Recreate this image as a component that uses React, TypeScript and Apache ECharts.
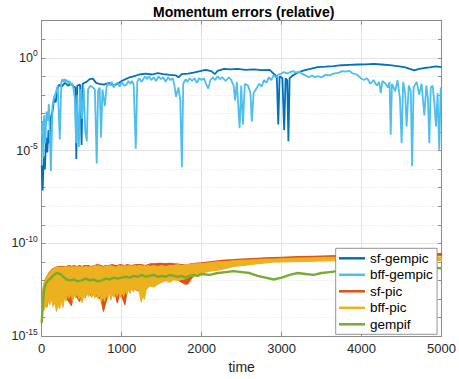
import React, { useEffect, useRef } from "react";
import * as echarts from "echarts";

// Relative momentum error per method, stored as log10(error) against time.
// Upper group (GEMPIC variants): [time, log10 error]
const sfGempic: [number, number][] = [
  [0, -5.8], [12, -7.15], [25, -5.3], [40, -6.0], [55, -4.3], [70, -5.1], [85, -3.9], [100, -4.6],
  [115, -3.2], [135, -2.9], [155, -2.2], [175, -2.4], [195, -1.7], [215, -1.45], [250, -1.55],
  [290, -1.35], [330, -1.5], [370, -1.4], [400, -1.55], [420, -1.6], [433, -5.45], [445, -1.5],
  [480, -1.45], [499, -4.7], [512, -1.4], [560, -1.3], [600, -1.15], [640, -1.12], [680, -1.35],
  [720, -1.4], [780, -1.45], [840, -1.35], [900, -1.5], [950, -1.4], [1000, -1.25], [1050, -1.15],
  [1100, -1.05], [1150, -1.0], [1220, -0.9], [1300, -0.85], [1380, -0.9], [1450, -0.82],
  [1520, -0.88], [1600, -0.92], [1680, -0.95], [1712, -1.05], [1750, -0.88], [1830, -0.85],
  [1900, -0.8], [1980, -0.72], [2050, -0.65], [2120, -0.72], [2166, -0.88], [2200, -0.7],
  [2280, -0.6], [2360, -0.62], [2450, -0.6], [2550, -0.65], [2650, -0.62], [2750, -0.66],
  [2850, -0.65], [2900, -0.85], [2940, -1.0], [2958, -3.6], [2975, -1.0], [3010, -1.1],
  [3032, -3.9], [3050, -1.1], [3070, -1.2], [3085, -4.5], [3100, -1.1], [3140, -0.95],
  [3200, -0.8], [3280, -0.68], [3360, -0.6], [3450, -0.5], [3550, -0.48], [3650, -0.45],
  [3750, -0.4], [3850, -0.38], [3950, -0.36], [4050, -0.35], [4150, -0.33], [4250, -0.36],
  [4350, -0.4], [4450, -0.45], [4550, -0.52], [4620, -0.62], [4660, -0.68], [4720, -0.6],
  [4780, -0.55], [4850, -0.52], [4930, -0.46], [5000, -0.5],
];

const bffGempic: [number, number][] = [
  [0, -4.2], [10, -3.4], [20, -5.4], [30, -3.1], [45, -4.6], [60, -2.9], [75, -3.4], [90, -2.5],
  [115, -6.1], [135, -2.6], [155, -2.1], [175, -1.9], [200, -1.5], [226, -4.4], [245, -1.35],
  [260, -1.15], [275, -1.3], [290, -1.15], [305, -1.3], [320, -1.2], [335, -1.4], [350, -1.25],
  [365, -1.5], [380, -1.35], [395, -1.6], [415, -2.2], [430, -4.6], [445, -2.0], [465, -4.8],
  [485, -1.7], [505, -3.3], [525, -1.6], [545, -4.0], [564, -4.5], [580, -1.7], [610, -1.5],
  [640, -1.6], [665, -1.7], [688, -5.7], [705, -1.8], [725, -1.6], [742, -4.3], [760, -1.7],
  [790, -2.6], [810, -1.6], [830, -1.35], [850, -1.5], [875, -1.3], [900, -1.6], [925, -1.4],
  [950, -1.35], [975, -1.55], [1000, -1.3], [1030, -1.5], [1060, -1.45], [1085, -1.25],
  [1110, -1.4], [1130, -1.25], [1150, -1.45], [1176, -4.9], [1195, -1.3], [1220, -1.1],
  [1250, -1.3], [1290, -1.0], [1320, -1.15], [1340, -1.0], [1370, -1.2], [1400, -1.05],
  [1430, -1.25], [1460, -1.0], [1490, -1.15], [1520, -1.05], [1550, -1.3], [1580, -1.05],
  [1610, -1.2], [1640, -1.1], [1660, -1.5], [1680, -2.1], [1710, -1.6], [1733, -2.3],
  [1753, -5.9], [1770, -1.4], [1800, -1.15], [1820, -1.3], [1850, -1.1], [1880, -1.25],
  [1910, -1.1], [1940, -1.35], [1970, -1.1], [2000, -1.2], [2030, -1.1], [2050, -1.35],
  [2083, -1.66], [2110, -1.2], [2140, -1.05], [2170, -1.2], [2200, -1.0], [2230, -1.15],
  [2260, -1.05], [2300, -1.25], [2340, -1.05], [2370, -1.2], [2400, -1.5], [2418, -2.3],
  [2440, -1.3], [2475, -3.8], [2495, -1.5], [2516, -3.6], [2540, -1.4], [2580, -1.5],
  [2610, -1.9], [2627, -3.45], [2650, -1.9], [2680, -1.7], [2720, -1.4], [2750, -1.55],
  [2780, -1.2], [2810, -1.35], [2840, -1.05], [2870, -1.2], [2900, -0.95], [2930, -1.05],
  [2960, -0.9], [3000, -0.85], [3030, -0.77], [3070, -0.85], [3100, -0.78], [3140, -0.72],
  [3180, -0.8], [3220, -0.75], [3250, -0.85], [3300, -0.95], [3340, -1.05], [3380, -0.95],
  [3420, -1.05], [3450, -0.98], [3500, -1.05], [3550, -0.92], [3600, -0.95], [3650, -0.85],
  [3720, -0.8], [3760, -0.72], [3800, -0.75], [3850, -0.7], [3880, -0.82], [3940, -0.9],
  [3990, -1.1], [4030, -1.2], [4070, -1.1], [4110, -1.4], [4150, -1.2], [4190, -1.5],
  [4220, -1.3], [4240, -1.9], [4260, -1.25], [4300, -1.4], [4330, -1.6], [4350, -1.3],
  [4364, -4.15], [4380, -1.4], [4420, -1.8], [4450, -1.2], [4480, -2.2], [4501, -4.6],
  [4520, -1.3], [4545, -1.9], [4563, -3.7], [4590, -1.5], [4615, -1.8], [4632, -5.85],
  [4650, -1.6], [4690, -1.3], [4720, -2.0], [4750, -1.4], [4785, -3.1], [4810, -1.5],
  [4830, -2.2], [4847, -4.6], [4865, -1.6], [4889, -1.5], [4910, -2.4], [4930, -3.7],
  [4950, -1.9], [4971, -4.95], [4990, -1.6], [5000, -1.8],
];

// Lower group (PIC variants) oscillate rapidly: [time, upper log10, lower log10]
const sfPicBand: [number, number, number][] = [
  [0, -13.2, -14.0], [20, -12.4, -13.4], [40, -12.0, -13.3], [62, -11.8, -13.45], [90, -11.6, -12.9],
  [130, -11.4, -13.0], [170, -11.3, -13.3], [210, -11.25, -13.3], [250, -11.25, -12.9],
  [300, -11.25, -12.9], [350, -11.2, -13.2], [371, -11.25, -13.35], [400, -11.2, -12.8],
  [440, -11.25, -12.9], [474, -11.2, -13.13], [500, -11.25, -12.7], [540, -11.2, -12.9],
  [580, -11.2, -12.6], [620, -11.25, -12.85], [660, -11.2, -12.7], [700, -11.15, -12.9],
  [740, -11.2, -13.0], [772, -11.25, -13.66], [800, -11.2, -13.2], [840, -11.2, -12.7],
  [880, -11.15, -12.8], [920, -11.2, -12.7], [945, -11.2, -13.2], [980, -11.15, -12.6],
  [1040, -11.2, -13.3], [1070, -11.15, -12.5], [1120, -11.2, -12.4], [1180, -11.15, -12.5],
  [1240, -11.15, -12.6], [1300, -11.2, -12.5], [1360, -11.1, -12.2], [1420, -11.1, -12.2],
  [1480, -11.08, -12.1], [1540, -11.1, -12.0], [1600, -11.08, -12.0], [1650, -11.1, -11.9],
  [1700, -11.12, -11.95], [1750, -11.15, -12.1], [1800, -11.15, -12.2], [1830, -11.15, -12.18],
  [1870, -11.1, -11.9], [1920, -11.08, -11.7], [2000, -11.05, -11.55], [2100, -11.0, -11.45],
  [2200, -10.95, -11.35], [2300, -10.9, -11.25], [2400, -10.88, -11.15], [2500, -10.85, -11.05],
  [2600, -10.83, -11.0], [2800, -10.78, -10.95], [3000, -10.75, -10.9], [3200, -10.72, -10.85],
  [3400, -10.7, -10.82], [3600, -10.68, -10.8], [3800, -10.65, -10.78], [4000, -10.62, -10.75],
  [4200, -10.6, -10.72], [4400, -10.58, -10.7], [4600, -10.57, -10.68], [4800, -10.56, -10.67],
  [5000, -10.56, -10.66],
];

const bffPicBand: [number, number, number][] = [
  [0, -13.3, -14.0], [15, -12.6, -13.3], [30, -12.2, -13.6], [45, -12.0, -13.1], [60, -11.85, -13.45],
  [80, -11.7, -13.0], [100, -11.6, -13.3], [120, -11.5, -12.9], [140, -11.4, -13.4], [160, -11.35, -13.1],
  [185, -11.3, -13.66], [205, -11.3, -13.3], [225, -11.3, -13.5], [245, -11.3, -13.0], [265, -11.3, -13.45],
  [285, -11.3, -12.9], [305, -11.25, -13.1], [325, -11.3, -12.7], [345, -11.25, -12.95], [365, -11.3, -12.6],
  [385, -11.25, -13.1], [405, -11.3, -12.7], [425, -11.25, -12.9], [445, -11.3, -12.65], [465, -11.25, -13.0],
  [485, -11.3, -12.75], [505, -11.25, -13.2], [525, -11.3, -12.8], [545, -11.25, -12.95], [565, -11.25, -12.6],
  [585, -11.3, -12.85], [605, -11.25, -12.55], [625, -11.3, -12.9], [645, -11.25, -12.7], [665, -11.2, -12.95],
  [685, -11.25, -12.6], [705, -11.2, -13.0], [725, -11.25, -12.7], [745, -11.25, -13.15], [765, -11.3, -12.8],
  [785, -11.25, -13.1], [805, -11.25, -12.75], [825, -11.2, -12.95], [845, -11.25, -12.6], [865, -11.2, -13.05],
  [885, -11.25, -12.7], [905, -11.25, -12.9], [925, -11.3, -12.6], [945, -11.25, -12.85], [965, -11.2, -12.55],
  [985, -11.25, -12.9], [1005, -11.2, -12.6], [1025, -11.25, -12.85], [1045, -11.2, -12.5], [1065, -11.25, -12.75],
  [1085, -11.2, -12.45], [1105, -11.25, -12.7], [1125, -11.2, -12.4], [1145, -11.25, -12.6], [1165, -11.2, -12.35],
  [1185, -11.25, -12.55], [1205, -11.2, -12.4], [1225, -11.2, -12.7], [1245, -11.2, -13.16], [1265, -11.25, -12.8],
  [1285, -11.2, -13.0], [1305, -11.25, -12.5], [1330, -11.2, -12.35], [1360, -11.25, -12.3], [1400, -11.2, -12.35],
  [1450, -11.25, -12.2], [1500, -11.2, -12.1], [1550, -11.25, -12.0], [1600, -11.2, -12.1], [1650, -11.2, -11.95],
  [1700, -11.15, -12.0], [1750, -11.2, -11.95], [1800, -11.15, -11.9], [1850, -11.15, -11.8], [1900, -11.1, -11.75],
  [1950, -11.1, -11.7], [2000, -11.1, -11.6], [2100, -11.05, -11.5], [2200, -11.0, -11.45], [2300, -10.98, -11.35],
  [2400, -10.95, -11.25], [2500, -10.92, -11.2], [2600, -10.9, -11.15], [2700, -10.88, -11.1], [2800, -10.85, -11.05],
  [2900, -10.85, -11.0], [3000, -10.83, -11.0], [3200, -10.8, -10.98], [3400, -10.78, -10.96], [3600, -10.75, -10.94],
  [3800, -10.75, -10.92], [4000, -10.74, -10.92], [4200, -10.74, -10.9], [4400, -10.74, -10.9], [4600, -10.74, -10.9],
  [4800, -10.74, -10.9], [5000, -10.75, -10.92],
];

const gempif: [number, number][] = [
  [0, -14.3], [15, -13.2], [30, -12.5], [50, -12.2], [80, -12.0], [110, -11.9], [150, -11.7],
  [190, -11.6], [230, -11.65], [270, -11.8], [310, -11.95], [350, -12.0], [400, -11.95],
  [450, -12.05], [500, -12.0], [550, -11.9], [600, -12.0], [650, -11.95], [700, -12.05],
  [750, -12.0], [800, -11.9], [850, -11.95], [900, -11.85], [950, -11.9], [1000, -11.85],
  [1050, -11.8], [1100, -11.85], [1150, -11.75], [1200, -11.8], [1250, -11.7], [1300, -11.8],
  [1350, -11.75], [1400, -11.7], [1450, -11.8], [1500, -11.75], [1550, -11.8], [1600, -11.7],
  [1650, -11.75], [1700, -11.8], [1750, -11.75], [1800, -11.85], [1850, -11.75], [1900, -11.7],
  [1950, -11.75], [2000, -11.65], [2100, -11.7], [2200, -11.6], [2300, -11.55], [2400, -11.5],
  [2500, -11.55], [2600, -11.6], [2700, -11.75], [2800, -11.85], [2900, -11.95], [2950, -11.9],
  [3000, -11.85], [3100, -11.7], [3200, -11.6], [3300, -11.65], [3400, -11.7], [3500, -11.6],
  [3600, -11.55], [3700, -11.5], [3800, -11.45], [3900, -11.5], [4000, -11.4], [4100, -11.45],
  [4200, -11.4], [4300, -11.35], [4400, -11.4], [4500, -11.35], [4600, -11.3], [4700, -11.3],
  [4800, -11.35], [4900, -11.3], [5000, -11.35],
];

const seriesNames = ["sf-gempic", "bff-gempic", "sf-pic", "bff-pic", "gempif"];
const seriesColors = ["#0072BD", "#4DBEEE", "#D95319", "#EDB120", "#77AC30"];

const FONT = 'Arial, "Liberation Sans", Helvetica, sans-serif';
const AXIS_GRAY = "#8c8c8c";
const TEXT = "#262626";

function lineSeries(idx: number, data: [number, number][], width: number) {
  return {
    type: "line",
    name: seriesNames[idx],
    data,
    showSymbol: false,
    symbol: "none",
    lineStyle: { width, color: seriesColors[idx] },
    itemStyle: { color: seriesColors[idx] },
    xAxisIndex: 0,
    yAxisIndex: 0,
  };
}

function bandSeries(idx: number, rows: [number, number, number][]) {
  const color = seriesColors[idx];
  return {
    type: "custom",
    name: seriesNames[idx],
    xAxisIndex: 0,
    yAxisIndex: 0,
    itemStyle: { color },
    encode: { x: 0, y: [1, 2] },
    data: rows,
    renderItem: (params: any, api: any) => {
      if (params.dataIndex !== 0) return null;
      const upper = rows.map((r) => api.coord([r[0], r[1]]));
      const lower = rows.map((r) => api.coord([r[0], r[2]])).reverse();
      return {
        type: "polygon",
        shape: { points: upper.concat(lower) },
        style: { fill: color, stroke: color, lineWidth: 1.2, lineJoin: "round" },
      };
    },
  };
}

export default function App() {
  const ref = useRef<HTMLDivElement>(null);

  useEffect(() => {
    if (!ref.current) return;
    const chart = echarts.init(ref.current, null, { renderer: "svg" });

    const gridRect = { left: 41.7, right: 13.3, top: 20.7, bottom: 41.3 };
    const plotCenterX = gridRect.left + (459 - gridRect.left - gridRect.right) / 2;

    chart.setOption({
      animation: false,
      backgroundColor: "#ffffff",
      textStyle: { fontFamily: FONT },
      graphic: [
        {
          type: "text",
          x: plotCenterX,
          y: 11.5,
          style: {
            text: "Momentum errors (relative)",
            align: "center",
            verticalAlign: "middle",
            fontSize: 14,
            fontWeight: "bold",
            fontFamily: FONT,
            fill: "#000",
          },
        },
      ],
      grid: { ...gridRect, containLabel: false },
      xAxis: [
        {
          type: "value",
          min: 0,
          max: 5000,
          interval: 1000,
          position: "bottom",
          name: "time",
          nameLocation: "middle",
          nameGap: 22,
          nameTextStyle: { fontSize: 14, color: TEXT, fontFamily: FONT },
          axisLine: { show: true, onZero: false, lineStyle: { color: AXIS_GRAY, width: 1 } },
          axisTick: { show: true, inside: true, length: 4, lineStyle: { color: AXIS_GRAY } },
          axisLabel: { fontSize: 13, color: TEXT, margin: 6, fontFamily: FONT, formatter: (v: number) => String(v) },
          splitLine: { show: true, lineStyle: { color: "#e3e3e3", width: 1 } },
        },
        {
          type: "value",
          min: 0,
          max: 5000,
          interval: 1000,
          position: "top",
          axisLine: { show: true, onZero: false, lineStyle: { color: AXIS_GRAY, width: 1 } },
          axisTick: { show: true, inside: true, length: 4, lineStyle: { color: AXIS_GRAY } },
          axisLabel: { show: false },
          splitLine: { show: false },
        },
      ],
      yAxis: [
        {
          // decades, log10 of the relative error
          type: "value",
          min: -15,
          max: 2,
          interval: 1,
          position: "left",
          axisLine: { show: true, onZero: false, lineStyle: { color: AXIS_GRAY, width: 1 } },
          axisTick: { show: true, inside: true, length: 3.5, lineStyle: { color: AXIS_GRAY } },
          axisLabel: {
            margin: 4,
            formatter: (v: number) => (Math.round(v) % 5 === 0 && v <= 0 ? `{b|10}{s|${Math.round(v)}}` : ""),
            rich: {
              b: { fontSize: 12.5, color: TEXT, fontFamily: FONT, lineHeight: 18 },
              s: { fontSize: 8.5, color: TEXT, fontFamily: FONT, lineHeight: 18, verticalAlign: "top" },
            },
          },
          splitLine: { show: true, lineStyle: { color: "#d9d9d9", width: 0.8, type: [1, 2] } },
        },
        {
          type: "value",
          min: -15,
          max: 2,
          interval: 1,
          position: "right",
          axisLine: { show: true, onZero: false, lineStyle: { color: AXIS_GRAY, width: 1 } },
          axisTick: { show: true, inside: true, length: 3.5, lineStyle: { color: AXIS_GRAY } },
          axisLabel: { show: false },
          splitLine: { show: false },
        },
        {
          // major decades every 5
          type: "value",
          min: -15,
          max: 2,
          interval: 5,
          position: "left",
          axisLine: { show: false },
          axisTick: { show: false },
          axisLabel: { show: false },
          splitLine: { show: true, lineStyle: { color: "#e3e3e3", width: 1 } },
        },
      ],
      legend: {
        data: seriesNames.map((name) => ({ name, icon: "rect" })),
        orient: "vertical",
        left: 335.7,
        top: 248.3,
        itemWidth: 26,
        itemHeight: 2.5,
        itemGap: 2.5,
        padding: [3, 4.3, 3, 3.3],
        backgroundColor: "#ffffff",
        borderColor: "#7a7a7a",
        borderWidth: 0.8,
        borderRadius: 0,
        selectedMode: false,
        textStyle: { fontSize: 13.5, color: "#000", fontFamily: FONT },
      },
      series: [
        lineSeries(0, sfGempic, 1.8),
        lineSeries(1, bffGempic, 1.8),
        bandSeries(2, sfPicBand),
        bandSeries(3, bffPicBand),
        lineSeries(4, gempif, 2.4),
      ],
    });

    return () => chart.dispose();
  }, []);

  return (
    <div
      ref={ref}
      style={{ position: "fixed", left: 0, top: 0, width: 459, height: 379, background: "#fff" }}
    />
  );
}
